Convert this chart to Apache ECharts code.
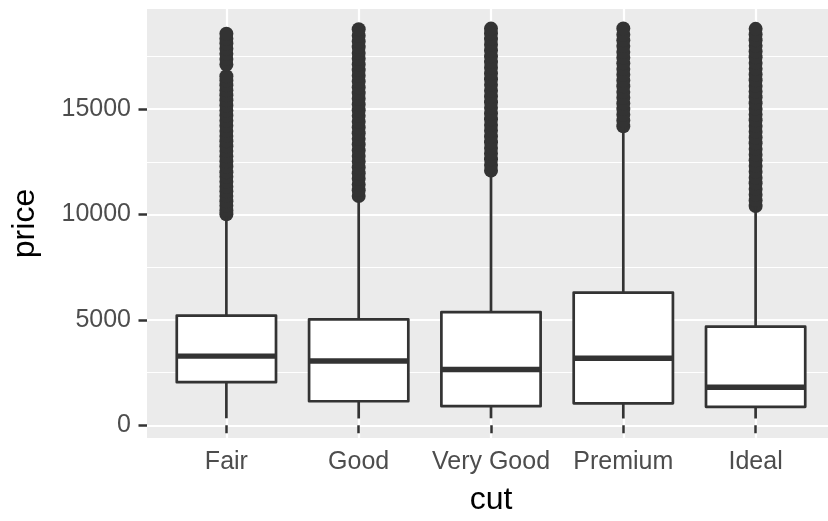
<!DOCTYPE html>
<html>
<head>
<meta charset="utf-8">
<script src="https://cdn.jsdelivr.net/npm/echarts@6.0.0/dist/echarts.min.js"></script>
<style>
  html, body { margin: 0; padding: 0; background: #fff; }
  #chart { width: 828px; height: 521px; }
</style>
</head>
<body>
<div id="chart"></div>
<script>
// diamonds: price by cut
const cuts = ['Fair', 'Good', 'Very Good', 'Premium', 'Ideal'];
const whiskerLow = [337, 327, 336, 326, 326];
const q1 = [2050, 1145, 912, 1046, 878];
const median = [3282, 3050, 2648, 3185, 1810];
const q3 = [5206, 5028, 5373, 6296, 4679];
const whiskerHigh = [9919, 10840, 12060, 14170, 10370];

const outFair = [10010, 10190, 10420, 10630, 10880, 11100, 11320, 11560, 11790, 12010, 12280, 12520,
  12760, 13010, 13240, 13480, 13730, 13960, 14210, 14450, 14700, 14930, 15170, 15420, 15660, 15890,
  16130, 16360, 16560, 17110, 17380, 17620, 17860, 18110, 18340, 18574];
const outGood = [10880, 11150, 11420, 11700, 11960, 12230, 12510, 12780, 13040, 13320, 13590, 13860,
  14130, 14400, 14680, 14950, 15220, 15490, 15760, 16030, 16310, 16580, 16850, 17120, 17390, 17660,
  17940, 18210, 18480, 18788];
const outVeryGood = [12080, 12350, 12620, 12890, 13160, 13430, 13700, 13980, 14250, 14520, 14790, 15060,
  15330, 15600, 15870, 16150, 16420, 16690, 16960, 17230, 17500, 17780, 18050, 18320, 18590, 18818];
const outPremium = [14190, 14460, 14730, 15000, 15270, 15540, 15810, 16090, 16360, 16630, 16900, 17170,
  17440, 17710, 17990, 18260, 18530, 18823];
const outIdeal = [10400, 10670, 10940, 11210, 11480, 11750, 12030, 12300, 12570, 12840, 13110, 13380,
  13650, 13930, 14200, 14470, 14740, 15010, 15280, 15560, 15830, 16100, 16370, 16640, 16910, 17190,
  17460, 17730, 18000, 18270, 18540, 18806];
const outliers = [outFair, outGood, outVeryGood, outPremium, outIdeal];

const yMajor = [0, 5000, 10000, 15000];
const yMinor = [2500, 7500, 12500, 17500];

const font = '"Liberation Sans", Arial, Helvetica, sans-serif';
const ink = '#333333';

const boxData = cuts.map((c, i) => [i + 1, whiskerLow[i], q1[i], median[i], q3[i], whiskerHigh[i]]);
const outData = [];
outliers.forEach((arr, i) => arr.forEach(v => outData.push([i + 1, v])));

const chart = echarts.init(document.getElementById('chart'), null, { renderer: 'canvas' });

chart.setOption({
  animation: false,
  backgroundColor: '#ffffff',
  grid: {
    left: 147, top: 9, width: 688, height: 429,
    outerBoundsMode: 'none',
    containLabel: false,
    show: true, backgroundColor: '#EBEBEB', borderWidth: 0
  },
  xAxis: {
    type: 'value',
    min: 0.4, max: 5.6,
    axisLine: { show: false },
    axisTick: { show: true, customValues: [1, 2, 3, 4, 5], length: 8, lineStyle: { color: ink, width: 2.5 } },
    axisLabel: {
      customValues: [1, 2, 3, 4, 5],
      formatter: v => cuts[Math.round(v) - 1],
      fontFamily: font, fontSize: 25, color: '#4D4D4D', margin: 12
    },
    splitLine: { show: true, lineStyle: { color: '#ffffff', width: 2.2 } },
    name: 'cut',
    nameLocation: 'middle',
    nameGap: 46,
    nameTextStyle: { fontFamily: font, fontSize: 32, color: '#000000' }
  },
  yAxis: [{
    type: 'value',
    min: -599, max: 19748,
    axisLine: { show: false },
    axisTick: { show: true, customValues: yMajor, length: 8.5, lineStyle: { color: ink, width: 2.5 } },
    axisLabel: {
      customValues: yMajor,
      formatter: v => String(v),
      fontFamily: font, fontSize: 25, color: '#4D4D4D', margin: 16
    },
    splitLine: { show: true, lineStyle: { color: '#ffffff', width: 2.2 } },
    name: 'price',
    nameLocation: 'middle',
    nameRotate: 90,
    nameGap: 106,
    nameTextStyle: { fontFamily: font, fontSize: 32, color: '#000000' }
  }, {
    type: 'value',
    min: -599, max: 19748,
    position: 'left',
    axisLine: { show: false },
    axisTick: { show: false, customValues: yMinor },
    axisLabel: { show: false, customValues: yMinor },
    splitLine: { show: true, lineStyle: { color: '#ffffff', width: 1.1 } }
  }],
  series: [{
    type: 'scatter',
    data: outData,
    symbol: 'circle',
    symbolSize: 14,
    itemStyle: { color: ink, opacity: 1 },
    z: 3
  }, {
    type: 'custom',
    data: boxData,
    encode: { x: 0, y: [1, 2, 3, 4, 5] },
    z: 4,
    renderItem: (params, api) => {
      const x = api.value(0);
      const pLo = api.coord([x, api.value(1)]);
      const pQ1 = api.coord([x, api.value(2)]);
      const pMed = api.coord([x, api.value(3)]);
      const pQ3 = api.coord([x, api.value(4)]);
      const pHi = api.coord([x, api.value(5)]);
      const hw = api.size([0.75, 0])[0] / 2;
      const line = { stroke: ink, lineWidth: 2.7 };
      return {
        type: 'group',
        children: [
          { type: 'line', shape: { x1: pLo[0], y1: pLo[1], x2: pQ1[0], y2: pQ1[1] }, style: line },
          { type: 'line', shape: { x1: pQ3[0], y1: pQ3[1], x2: pHi[0], y2: pHi[1] }, style: line },
          { type: 'rect', shape: { x: pQ3[0] - hw, y: pQ3[1], width: hw * 2, height: pQ1[1] - pQ3[1] },
            style: { fill: '#ffffff', stroke: ink, lineWidth: 2.7, lineJoin: 'round' } },
          { type: 'line', shape: { x1: pMed[0] - hw, y1: pMed[1], x2: pMed[0] + hw, y2: pMed[1] },
            style: { stroke: ink, lineWidth: 5.4 } }
        ]
      };
    }
  }]
});
</script>
</body>
</html>
